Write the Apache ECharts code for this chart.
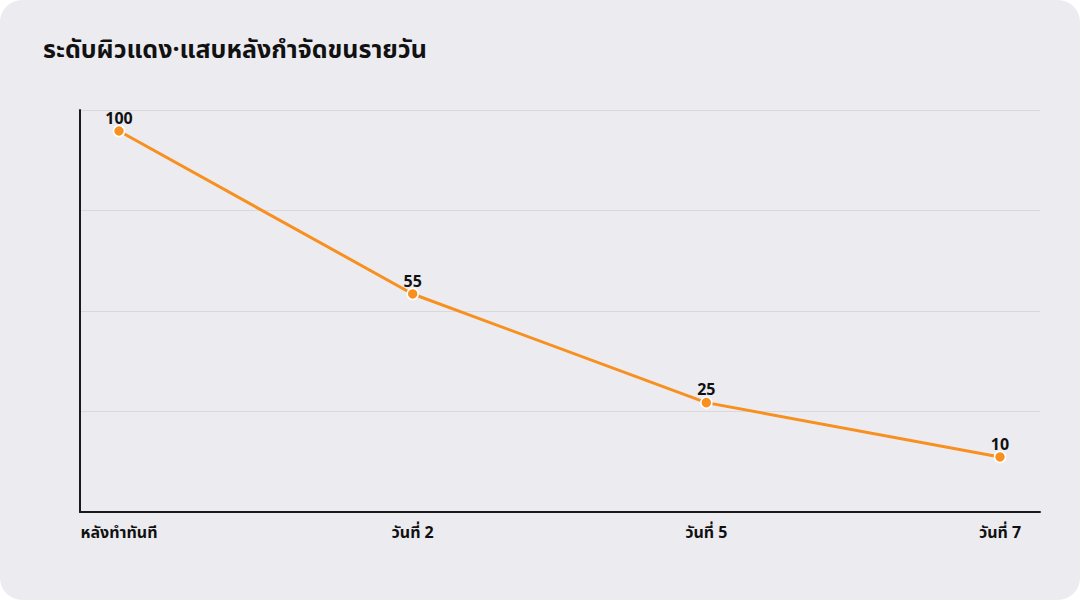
<!DOCTYPE html>
<html>
<head>
<meta charset="utf-8">
<script src="https://cdn.jsdelivr.net/npm/echarts@6/dist/echarts.min.js"></script>
<style>
  html, body { margin: 0; padding: 0; background: #ffffff; }
  #chart { width: 1080px; height: 600px; background: #ECEBF0; border-radius: 22px; overflow: hidden; }
</style>
</head>
<body>
<div id="chart"></div>
<script>
// ข้อมูล
const days = ['หลังทำทันที', 'วันที่ 2', 'วันที่ 5', 'วันที่ 7'];
const rednessLevel = [100, 55, 25, 10];

const FONT = '"Noto Sans Thai", "Noto Sans", "DejaVu Sans", sans-serif';

let myChart = echarts.init(document.getElementById('chart'), null, {renderer: 'svg'});

let option = {
    backgroundColor: 'transparent',
    textStyle: { fontFamily: FONT },
    title: {
        text: 'ระดับผิวแดง·แสบหลังกำจัดขนรายวัน',
        left: 38,
        top: 32,
        textStyle: { fontSize: 25, fontWeight: 'bold', color: '#111', fontFamily: FONT }
    },
    grid: [
        // ข้อมูล
        { left: 119, right: 80, top: 110, bottom: 88 },
        // กรอบ + เส้นกริด
        { left: 80, right: 40, top: 110, bottom: 88 }
    ],
    xAxis: [
        {
            type: 'category',
            gridIndex: 0,
            data: days,
            boundaryGap: false,
            axisLine: { show: false },
            axisTick: { show: false },
            axisLabel: {
                margin: 13,
                fontSize: 16,
                fontWeight: 'bold',
                color: '#111',
                fontFamily: FONT
            }
        },
        {
            type: 'value',
            gridIndex: 1,
            min: 0, max: 1,
            axisLine: { show: true, lineStyle: { color: '#1a1a1a', width: 2 } },
            axisTick: { show: false },
            axisLabel: { show: false },
            splitLine: { show: false }
        }
    ],
    yAxis: [
        {
            type: 'value',
            gridIndex: 0,
            min: -5.2,
            max: 105.8,
            show: false
        },
        {
            type: 'value',
            gridIndex: 1,
            min: 0, max: 4, interval: 1,
            axisLine: { show: true, lineStyle: { color: '#1a1a1a', width: 2 } },
            axisTick: { show: false },
            axisLabel: { show: false },
            splitLine: { show: true, lineStyle: { color: '#d9d8dd', width: 1 } }
        }
    ],
    series: [{
        name: 'ระดับผิวแดง',
        type: 'line',
        xAxisIndex: 0,
        yAxisIndex: 0,
        data: rednessLevel,
        symbol: 'circle',
        symbolSize: 11,
        itemStyle: { color: '#F7901E', borderColor: '#ffffff', borderWidth: 1.5 },
        lineStyle: { color: '#F7901E', width: 3 },
        label: {
            show: true,
            position: 'top',
            distance: -2,
            fontSize: 16,
            fontWeight: 'bold',
            color: '#111',
            fontFamily: FONT
        },
        animation: false
    }]
};

myChart.setOption(option);
</script>
</body>
</html>
